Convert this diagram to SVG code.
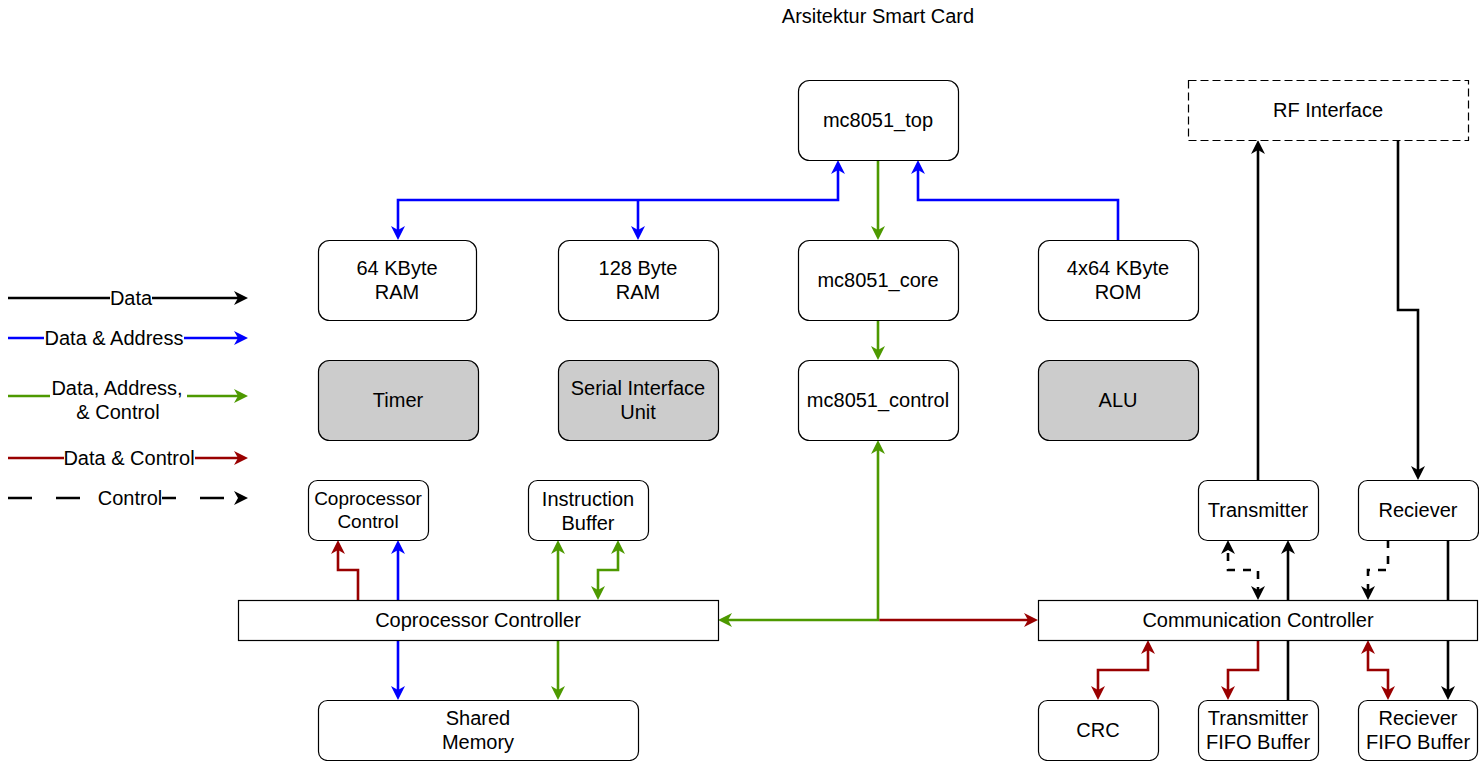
<svg xmlns="http://www.w3.org/2000/svg" width="1479" height="761" viewBox="0 0 1479 761">
<style>
text{font-family:"Liberation Sans",Arial,Helvetica,sans-serif;font-size:20px;fill:#000;text-anchor:middle}
.box{fill:#fff;stroke:#000;stroke-width:1.2}
.gray{fill:#ccc;stroke:#000;stroke-width:1.2}
.rf{fill:#fff;stroke:#000;stroke-width:1.2;stroke-dasharray:8 4}
.c{fill:none;stroke-width:2.6;stroke-linejoin:miter}
.k{stroke:#000}.b{stroke:#00f}.g{stroke:#4d9900}.r{stroke:#990000}
.dash{stroke-dasharray:8 8;stroke-dashoffset:13}
.bg{fill:#fff}
.sm{font-size:19px}
</style>
<defs>
<marker id="mk" viewBox="0 0 14 14" refX="4" refY="7" markerWidth="14" markerHeight="14" markerUnits="userSpaceOnUse" orient="auto-start-reverse"><path d="M14,7 L0,0 L4,7 L0,14 Z" fill="#000"/></marker>
<marker id="mb" viewBox="0 0 14 14" refX="4" refY="7" markerWidth="14" markerHeight="14" markerUnits="userSpaceOnUse" orient="auto-start-reverse"><path d="M14,7 L0,0 L4,7 L0,14 Z" fill="#00f"/></marker>
<marker id="mg" viewBox="0 0 14 14" refX="4" refY="7" markerWidth="14" markerHeight="14" markerUnits="userSpaceOnUse" orient="auto-start-reverse"><path d="M14,7 L0,0 L4,7 L0,14 Z" fill="#4d9900"/></marker>
<marker id="mr" viewBox="0 0 14 14" refX="4" refY="7" markerWidth="14" markerHeight="14" markerUnits="userSpaceOnUse" orient="auto-start-reverse"><path d="M14,7 L0,0 L4,7 L0,14 Z" fill="#990000"/></marker>
</defs>
<rect width="1479" height="761" fill="#fff"/>
<text id="title" x="878" y="23">Arsitektur Smart Card</text>

<g id="connectors">
<path class="c b" d="M838,170 L838,200 L398,200 L398,230" marker-start="url(#mb)" marker-end="url(#mb)"/>
<path class="c b" d="M638,200 L638,230" marker-end="url(#mb)"/>
<path class="c g" d="M878,160 L878,230" marker-end="url(#mg)"/>
<path class="c b" d="M1118,240 L1118,200 L918,200 L918,170" marker-end="url(#mb)"/>
<path class="c g" d="M878,320 L878,350" marker-end="url(#mg)"/>
<path class="c g" d="M878,450 L878,620 L728,620" marker-start="url(#mg)" marker-end="url(#mg)"/>
<path class="c r" d="M879.3,620 L1028,620" marker-end="url(#mr)"/>
<path class="c r" d="M358,600 L358,570 L338,570 L338,550" marker-end="url(#mr)"/>
<path class="c b" d="M398,600 L398,550" marker-end="url(#mb)"/>
<path class="c b" d="M398,640 L398,690" marker-end="url(#mb)"/>
<path class="c g" d="M558,600 L558,550" marker-end="url(#mg)"/>
<path class="c g" d="M558,640 L558,690" marker-end="url(#mg)"/>
<path class="c g" d="M598,590 L598,570 L618,570 L618,550" marker-start="url(#mg)" marker-end="url(#mg)"/>
<path class="c k" d="M1258,480 L1258,150" marker-end="url(#mk)"/>
<path class="c k" d="M1398,140 L1398,310 L1418,310 L1418,470" marker-end="url(#mk)"/>
<path class="c k dash" d="M1228,550 L1228,570 L1258,570 L1258,590" marker-start="url(#mk)" marker-end="url(#mk)"/>
<path class="c k" d="M1288,700 L1288,550" marker-end="url(#mk)"/>
<path class="c k dash" d="M1388,540 L1388,570 L1368,570 L1368,590" style="stroke-dashoffset:0" marker-end="url(#mk)"/>
<path class="c k" d="M1448,540 L1448,690" marker-end="url(#mk)"/>
<path class="c r" d="M1148,650 L1148,670 L1098,670 L1098,690" marker-start="url(#mr)" marker-end="url(#mr)"/>
<path class="c r" d="M1258,640 L1258,670 L1228,670 L1228,690" marker-end="url(#mr)"/>
<path class="c r" d="M1368,650 L1368,670 L1388,670 L1388,690" marker-start="url(#mr)" marker-end="url(#mr)"/>
</g>

<g id="legend">
<path class="c k" d="M8,298 L238,298" marker-end="url(#mk)"/>
<rect class="bg" x="110" y="287" width="42" height="22"/>
<text x="131" y="305">Data</text>
<path class="c b" d="M8,338 L238,338" marker-end="url(#mb)"/>
<rect class="bg" x="44" y="327" width="140" height="22"/>
<text x="114" y="345">Data &amp; Address</text>
<path class="c g" d="M8,396 L238,396" marker-end="url(#mg)"/>
<rect class="bg" x="50" y="378" width="137" height="46"/>
<text x="117" y="395">Data, Address,</text>
<text x="118" y="419">&amp; Control</text>
<path class="c r" d="M8,458 L238,458" marker-end="url(#mr)"/>
<rect class="bg" x="64" y="447" width="131" height="22"/>
<text x="129" y="465">Data &amp; Control</text>
<path class="c k" d="M8,498 L238,498" style="stroke-dasharray:24 24" marker-end="url(#mk)"/>
<rect class="bg" x="98" y="487" width="64" height="22"/>
<text x="130" y="505">Control</text>
</g>

<g id="mc8051_top"><rect class="box" x="798.5" y="80.5" width="160" height="80" rx="11"/><text x="878" y="127">mc8051_top</text></g>
<g id="ram64"><rect class="box" x="318.5" y="240.5" width="158" height="80" rx="11"/><text x="397" y="275">64 KByte</text><text x="397" y="299">RAM</text></g>
<g id="ram128"><rect class="box" x="558.5" y="240.5" width="160" height="80" rx="11"/><text x="638" y="275">128 Byte</text><text x="638" y="299">RAM</text></g>
<g id="mc8051_core"><rect class="box" x="798.5" y="240.5" width="160" height="80" rx="11"/><text x="878" y="287">mc8051_core</text></g>
<g id="rom"><rect class="box" x="1038.5" y="240.5" width="160" height="80" rx="11"/><text x="1118" y="275">4x64 KByte</text><text x="1118" y="299">ROM</text></g>
<g id="timer"><rect class="gray" x="318.5" y="360.5" width="160" height="80" rx="11"/><text x="398" y="407">Timer</text></g>
<g id="siu"><rect class="gray" x="558.5" y="360.5" width="160" height="80" rx="11"/><text x="638" y="395">Serial Interface</text><text x="638" y="419">Unit</text></g>
<g id="mc8051_control"><rect class="box" x="798.5" y="360.5" width="160" height="80" rx="11"/><text x="878" y="407">mc8051_control</text></g>
<g id="alu"><rect class="gray" x="1038.5" y="360.5" width="160" height="80" rx="11"/><text x="1118" y="407">ALU</text></g>
<g id="coproc_control"><rect class="box" x="308.5" y="480.5" width="120" height="60" rx="9"/><text class="sm" x="368" y="505">Coprocessor</text><text class="sm" x="368" y="528">Control</text></g>
<g id="instr_buffer"><rect class="box" x="528.5" y="480.5" width="120" height="60" rx="9"/><text x="588" y="506">Instruction</text><text x="588" y="530">Buffer</text></g>
<g id="coproc_controller"><rect class="box" x="238.5" y="600.5" width="480" height="40"/><text x="478" y="627">Coprocessor Controller</text></g>
<g id="shared_memory"><rect class="box" x="318.5" y="700.5" width="320" height="60" rx="9"/><text x="478" y="725">Shared</text><text x="478" y="749">Memory</text></g>
<g id="rf_interface"><rect class="rf" x="1188.5" y="80.5" width="280" height="60"/><text x="1328" y="117">RF Interface</text></g>
<g id="transmitter"><rect class="box" x="1198.5" y="480.5" width="120" height="60" rx="9"/><text x="1258" y="517">Transmitter</text></g>
<g id="reciever"><rect class="box" x="1358.5" y="480.5" width="120" height="60" rx="9"/><text x="1418" y="517">Reciever</text></g>
<g id="comm_controller"><rect class="box" x="1038.5" y="600.5" width="439" height="40"/><text x="1258" y="627">Communication Controller</text></g>
<g id="crc"><rect class="box" x="1038.5" y="700.5" width="120" height="60" rx="9"/><text x="1098" y="737">CRC</text></g>
<g id="tx_fifo"><rect class="box" x="1198.5" y="700.5" width="120" height="60" rx="9"/><text x="1258" y="725">Transmitter</text><text x="1258" y="749">FIFO Buffer</text></g>
<g id="rx_fifo"><rect class="box" x="1358.5" y="700.5" width="119" height="60" rx="9"/><text x="1418" y="725">Reciever</text><text x="1418" y="749">FIFO Buffer</text></g>
</svg>
